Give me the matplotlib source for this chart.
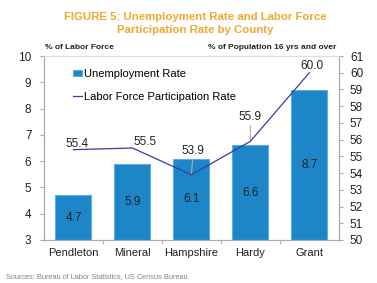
import matplotlib
matplotlib.use("Agg")
import matplotlib.pyplot as plt
from matplotlib.ticker import FixedLocator

plt.rcParams['font.family'] = ['Liberation Sans', 'DejaVu Sans']

counties = ["Pendleton", "Mineral", "Hampshire", "Hardy", "Grant"]
unemployment = [4.7, 5.9, 6.1, 6.6, 8.7]
participation = [55.4, 55.5, 53.9, 55.9, 60.0]
left_ticks = [3, 4, 5, 6, 7, 8, 9, 10]
right_ticks = [50, 51, 52, 53, 54, 55, 56, 57, 58, 59, 60, 61]

bar_color = "#1c86c8"
edge_color = "#5aaee0"
line_color = "#3b3b9e"
gray = "#aaaaaa"

fig = plt.figure(figsize=(3.77, 2.83), dpi=100)
ax = fig.add_axes([0.1167, 0.152, 0.782, 0.650])
x = list(range(len(counties)))
bars = ax.bar(x, [u - 3 for u in unemployment], bottom=3, width=0.61,
              color=bar_color, edgecolor=edge_color, linewidth=0.8,
              label="Unemployment Rate", zorder=2)
ax.set_xlim(-0.5, 4.5)
ax.set_ylim(3, 10)
ax.set_yticks(left_ticks)
ax.set_xticks(x)
ax.set_xticklabels(counties, fontsize=8, color="#222222")
ax.xaxis.set_minor_locator(FixedLocator([0.5, 1.5, 2.5, 3.5]))
ax.tick_params(axis='x', which='major', length=0, pad=6)
ax.tick_params(axis='x', which='minor', length=3, color=gray, direction='out')
ax.tick_params(axis='y', length=3, color=gray, labelsize=8.5, labelcolor="#222222", pad=6)
for s in ax.spines.values():
    s.set_color(gray)
    s.set_linewidth(0.8)
ax.spines['top'].set_color("#dddddd")

for xi, u in zip(x, unemployment):
    ax.text(xi, 3 + (u - 3) / 2, f"{u:.1f}", ha='center', va='center',
            fontsize=8.5, color="#222222", zorder=3)

ax2 = ax.twinx()
ax2.set_ylim(50, 61)
ax2.set_yticks(right_ticks)
ax2.tick_params(axis='y', length=3, color=gray, labelsize=8.5, labelcolor="#222222", pad=5)
for s in ax2.spines.values():
    s.set_color(gray)
    s.set_linewidth(0.8)
ax2.spines['top'].set_color("#dddddd")
line, = ax2.plot(x, participation, color=line_color, linewidth=0.9,
                 label="Labor Force Participation Rate", zorder=4)

offsets = [(2.5, 4), (9.4, 4), (1.4, 17), (0, 17.5), (2, 5)]
leaders = [False, False, True, True, False]
for xi, p, off, lead in zip(x, participation, offsets, leaders):
    kw = dict(arrowprops=dict(arrowstyle='-', color=gray, lw=0.8, shrinkA=0, shrinkB=0)) if lead else {}
    ax2.annotate(f"{p:.1f}", (xi, p), xytext=off, textcoords='offset points',
                 ha='center', va='center', fontsize=8.5, color="#222222", **kw)

leg = ax2.legend([bars, line], ["Unemployment Rate", "Labor Force Participation Rate"],
                 loc='upper left', bbox_to_anchor=(0.065, 0.985), frameon=False,
                 fontsize=8, handlelength=0.8, handletextpad=0.15, labelspacing=1.15,
                 handleheight=0.5)

fig.text(0.12, 0.832, "% of Labor Force", fontsize=6, fontweight='bold', color="#222222",
         ha='left', va='center')
fig.text(0.892, 0.832, "% of Population 16 yrs and over", fontsize=6, fontweight='bold',
         color="#222222", ha='right', va='center')

fig.text(0.517, 0.918, "FIGURE 5: Unemployment Rate and Labor Force\nParticipation Rate by County",
         fontsize=8.2, fontweight='bold', color="#f0a830", ha='center', va='center',
         linespacing=1.35)
fig.text(0.015, 0.024, "Sources: Bureau of Labor Statistics, US Census Bureau",
         fontsize=5.3, color="#8c7f78", ha='left', va='center')

fig.savefig("out.png", dpi=100)
